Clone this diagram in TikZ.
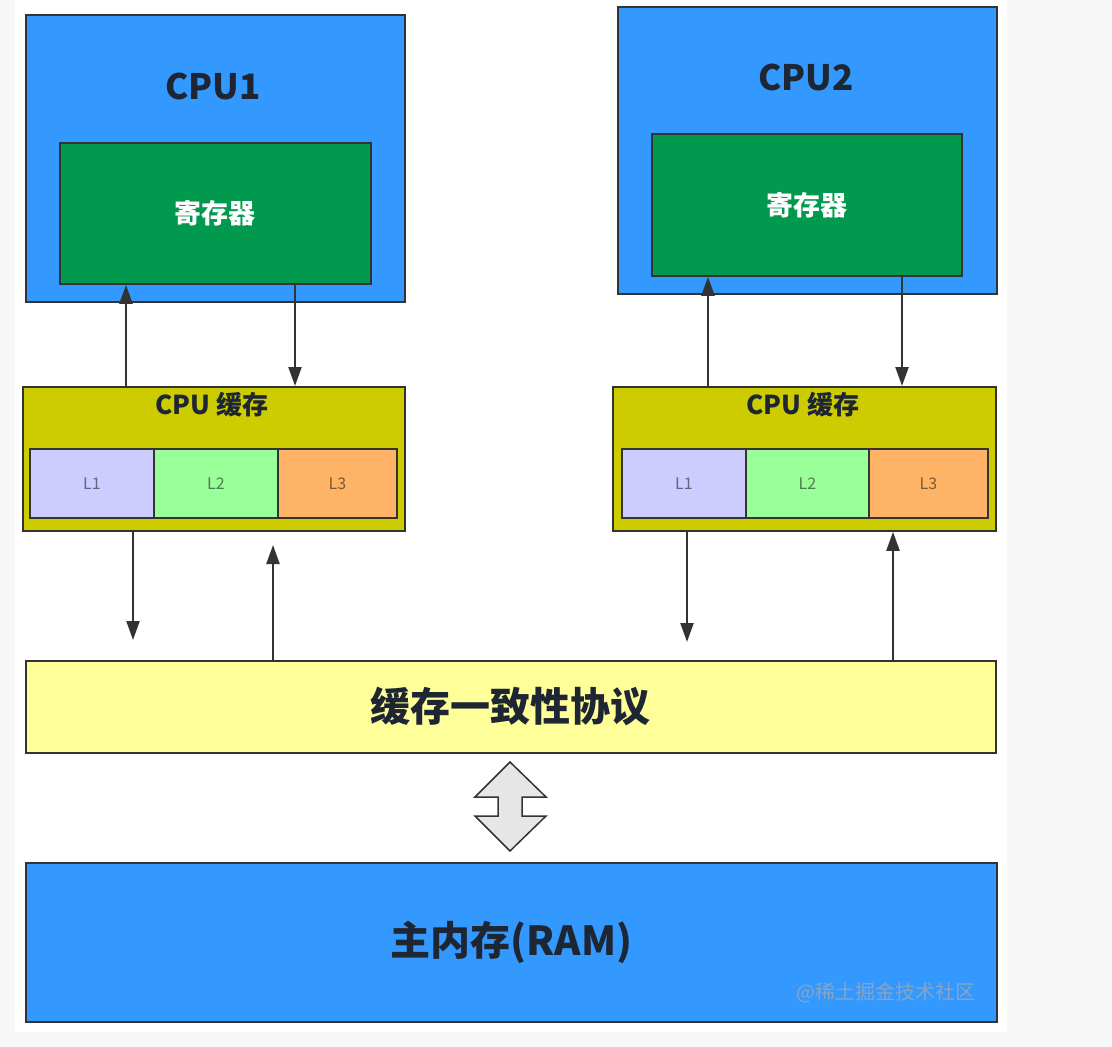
\documentclass[tikz,border=0pt]{standalone}
\usepackage{fontspec}
\setmainfont{Noto Sans CJK SC}
\usetikzlibrary{arrows.meta}
\definecolor{bgc}{HTML}{F7F7F7}
\definecolor{cpublue}{HTML}{3399FF}
\definecolor{reggreen}{HTML}{00994D}
\definecolor{cacheyel}{HTML}{CCCC00}
\definecolor{lone}{HTML}{CCCCFF}
\definecolor{ltwo}{HTML}{99FF99}
\definecolor{lthree}{HTML}{FFB366}
\definecolor{protoc}{HTML}{FFFF99}
\definecolor{edgec}{HTML}{333333}
\definecolor{ink}{HTML}{1F2633}
\definecolor{dblfill}{HTML}{E6E6E6}
\definecolor{wmark}{HTML}{8AA4C2}
\begin{document}
\begin{tikzpicture}[x=1pt,y=-1pt,
  box/.style={draw=edgec,line width=1.8pt,inner sep=0pt,anchor=north west},
  arr/.style={draw=edgec,line width=2.3pt,-{Triangle[width=13pt,length=19pt]}},
  bigtitle/.style={font=\bfseries\fontsize{35}{35}\selectfont,text=ink},
  regtext/.style={font=\bfseries\fontsize{27}{27}\selectfont,text=white},
  cachetitle/.style={font=\bfseries\fontsize{26}{26}\selectfont,text=ink},
  leveltext/.style={font=\fontsize{16}{16}\selectfont,text=black,text opacity=0.5},
  hugetext/.style={font=\bfseries\fontsize{40}{40}\selectfont,text=ink}]
\fill[bgc] (0,0) rectangle (1112,1047);
\fill[white] (15,0) rectangle (1007,1032);
% CPU1
\node[box,fill=cpublue,minimum width=379pt,minimum height=287pt] (cpu1) at (25,14) {};
\node[bigtitle] (cpu1t) at (213,86) {CPU1};
\node[box,fill=reggreen,minimum width=311pt,minimum height=141pt,regtext] (reg1) at (59,142) {寄存器};
% CPU2
\node[box,fill=cpublue,minimum width=379pt,minimum height=287pt] (cpu2) at (617,6) {};
\node[bigtitle] (cpu2t) at (806,77) {CPU2};
\node[box,fill=reggreen,minimum width=310pt,minimum height=142pt,regtext] (reg2) at (651,133) {寄存器};
% cache 1
\node[box,fill=cacheyel,minimum width=382pt,minimum height=144pt] (cache1) at (22,386) {};
\node[cachetitle] (cache1t) at (212,405) {CPU 缓存};
\node[box,fill=lone,minimum width=124pt,minimum height=69pt,leveltext] (l11) at (29,448) {L1};
\node[box,fill=ltwo,minimum width=124pt,minimum height=69pt,leveltext] (l12) at (153,448) {L2};
\node[box,fill=lthree,minimum width=119pt,minimum height=69pt,leveltext] (l13) at (277,448) {L3};
% cache 2
\node[box,fill=cacheyel,minimum width=383pt,minimum height=144pt] (cache2) at (612,386) {};
\node[cachetitle] (cache2t) at (803,405) {CPU 缓存};
\node[box,fill=lone,minimum width=124pt,minimum height=69pt,leveltext] (l21) at (621,448) {L1};
\node[box,fill=ltwo,minimum width=123pt,minimum height=69pt,leveltext] (l22) at (745,448) {L2};
\node[box,fill=lthree,minimum width=119pt,minimum height=69pt,leveltext] (l23) at (868,448) {L3};
% protocol
\node[box,fill=protoc,minimum width=970pt,minimum height=92pt,hugetext] (proto) at (25,660) {缓存一致性协议};
% RAM
\node[box,fill=cpublue,minimum width=971pt,minimum height=159pt,hugetext] (ram) at (25,862) {主内存(RAM)};
\node[font=\fontsize{20}{20}\selectfont,text=wmark] (wm) at (886,993) {@稀土掘金技术社区};
% column coordinates
\coordinate (a1) at (126,0);
\coordinate (a2) at (295,0);
\coordinate (a3) at (708,0);
\coordinate (a4) at (902,0);
\coordinate (a8) at (893,0);
\coordinate (e1) at (133,640);
\coordinate (e2) at (273,545);
\coordinate (e3) at (687,642);
% arrows
\draw[arr] (cache1.north -| a1) -- (reg1.south -| a1);
\draw[arr] (reg1.south -| a2) -- (cache1.north -| a2);
\draw[arr] (cache2.north -| a3) -- (reg2.south -| a3);
\draw[arr] (reg2.south -| a4) -- (cache2.north -| a4);
\draw[arr] (cache1.south -| e1) -- (e1);
\draw[arr] (proto.north -| e2) -- (e2);
\draw[arr] (cache2.south -| e3) -- (e3);
\draw[arr] (proto.north -| a8) -- (cache2.south -| a8);
% double arrow
\draw[fill=dblfill,draw=edgec,line width=1.5pt,line join=miter]
  (510,762) -- (546,797) -- (522,797) -- (522,816) -- (546,816) -- (510,851)
  -- (475,816) -- (498,816) -- (498,797) -- (475,797) -- cycle;
\end{tikzpicture}
\end{document}
